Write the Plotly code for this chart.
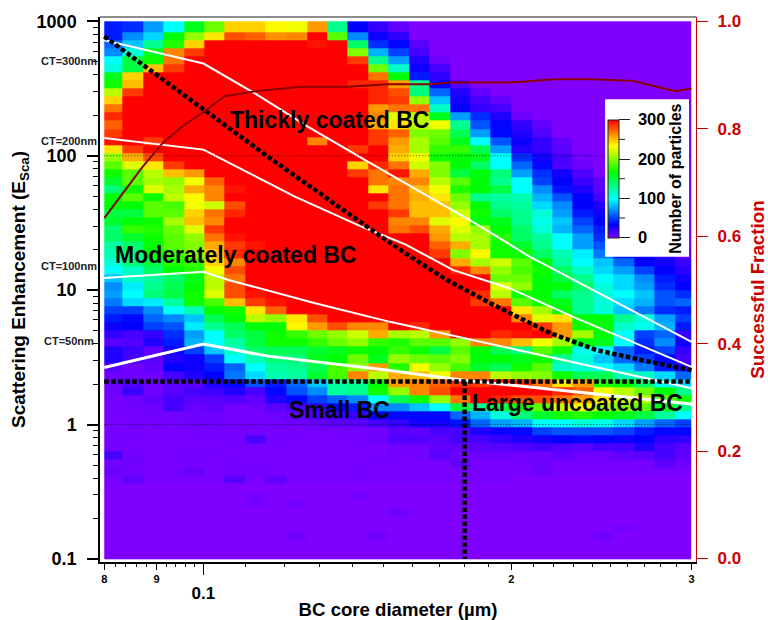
import plotly.graph_objects as go

FONT = "Liberation Sans"
R = 300

# Bin edges of the 2-D histogram
diameter_edges = [0.08, .0834, .0873, .0914, .0957, .1002, .1049, .1098, .1150, .1205, .1262, .1321, .1383, .1448,
                  .1517, .1588, .1663, .1742, .1824, .1909, .1999, .2094, .2193, .2296, .2404, .2517, .2636, .2760,
                  .2890, .3]
esca_edges = [1000, 832, 724, 631, 550, 479, 417, 363, 316, 275, 240, 209, 182, 158, 138, 120, 105, 91.2, 79.4, 69.2,
              60.3, 52.5, 45.7, 39.8, 34.7, 30.2, 26.3, 22.9, 20, 17.4, 15.1, 13.2, 11.5, 10, 8.71, 7.59, 6.61, 5.75,
              5.01, 4.37, 3.80, 3.31, 2.88, 2.51, 2.19, 1.91, 1.66, 1.45, 1.26, 1.10, .955, .832, .724, .631, .55,
              .479, .417, .363, .316, .275, .24, .209, .182, .158, .138, .12, .105, .1]

# Number of particles: one line per E_sca bin (top to bottom), one value per diameter bin
counts = [
 [40,45,75,100,160,195,245,245,235,230,260,130,33,20,8]+[0]*14,
 [40,70,90,165,205,240,280,275,262,265,R,190,70,30,22]+[0]*14,
 [60,85,130,175,245,R,R,R,R,R,295,R,140,45,35,10]+[0]*13,
 [70,110,160,265,285,R,R,R,R,R,R,R,200,80,50,15]+[0]*13,
 [100,150,170,270,R,R,R,R,R,R,R,R,285,130,75,25,5]+[0]*12,
 [110,150,250,285,R,R,R,R,R,R,R,R,R,195,115,30,15]+[0]*12,
 [160,245,R,R,R,R,R,R,R,R,R,R,R,270,165,40,22]+[0]*12,
 [170,250,R,R,R,R,R,R,R,R,R,R,290,290,260,130,33,12]+[0]*11,
 [215,285,R,R,R,R,R,R,R,R,R,R,R,290,280,135,60,25,8]+[0]*10,
 [245,R,R,R,R,R,R,R,R,R,R,R,R,290,285,205,85,28,15,8]+[0]*9,
 [270,R,R,R,R,R,R,R,R,R,R,R,R,260,270,270,115,33,20,15]+[0]*9,
 [290,R,R,R,R,R,R,R,R,R,R,R,R,265,225,215,160,75,45,25,5]+[0]*8,
 [275,R,R,R,R,R,R,R,R,R,R,R,R,255,240,215,230,130,55,35,20,8]+[0]*7,
 [285,R,R,R,R,R,R,R,R,R,R,R,R,285,275,200,195,145,75,35,25,12]+[0]*7,
 [295,R,285,R,R,R,R,R,R,R,265,R,R,285,260,210,190,160,100,55,30,20,8]+[0]*6,
 [240,285,R,R,R,R,R,R,R,R,R,R,285,R,255,210,180,180,145,75,25,20,10]+[0]*6,
 [205,255,280,R,R,R,R,R,R,R,R,R,R,R,245,230,170,165,160,100,45,28,15,3]+[0]*5,
 [190,225,240,285,R,R,R,R,R,R,R,R,245,290,270,220,200,165,140,100,60,35,12,5]+[0]*5,
 [170,190,215,250,260,R,R,R,R,R,R,R,285,270,295,255,200,150,165,135,75,45,28,12]+[0]*5,
 [155,190,210,205,230,275,R,R,R,R,R,R,R,270,265,265,215,190,165,130,100,50,33,18,8]+[0]*4,
 [135,170,225,210,255,265,295,R,R,R,R,R,R,240,270,250,230,175,165,150,100,70,38,25,10]+[0]*4,
 [165,190,170,215,235,265,R,R,R,R,R,R,R,R,270,255,240,195,130,125,120,80,55,33,15,5]+[0]*3,
 [165,165,190,185,230,220,280,R,R,R,R,R,R,285,270,250,250,205,165,130,125,90,70,33,25,10]+[0]*3,
 [150,150,190,190,245,270,290,R,R,R,R,R,R,R,285,250,250,220,170,140,130,110,75,40,30,12]+[0]*3,
 [155,165,170,210,250,265,R,R,R,R,R,R,R,R,265,265,225,235,165,160,130,105,85,50,33,20,5,0,0],
 [140,180,175,195,225,285,R,R,R,R,R,R,R,R,270,280,255,225,205,165,140,110,80,60,40,25,10,0,0],
 [140,155,170,190,205,270,295,R,R,R,R,R,R,R,R,R,260,215,210,175,140,125,100,75,45,28,15,5,0],
 [125,140,165,190,200,255,285,295,R,R,R,R,R,R,R,R,275,255,210,170,155,130,100,75,55,30,20,8,0],
 [120,135,165,180,200,250,290,R,R,R,R,R,R,R,R,R,285,200,235,170,170,140,120,95,65,40,30,20,6],
 [110,135,150,175,180,245,265,R,R,R,R,R,R,R,R,R,R,255,210,220,190,165,125,100,85,60,33,28,18],
 [100,115,140,165,175,230,280,R,R,R,R,R,R,R,R,R,R,290,265,205,185,170,140,115,90,75,50,33,22],
 [85,115,125,140,160,215,270,R,R,R,R,R,R,R,R,R,R,R,R,195,195,165,150,130,100,90,70,40,28],
 [70,95,130,145,165,215,280,R,R,R,R,R,R,R,R,R,R,R,R,225,205,165,165,140,110,90,75,45,33],
 [75,100,135,150,170,225,280,295,R,R,R,R,R,R,R,R,R,R,290,215,170,165,140,130,110,100,85,55,45],
 [65,90,95,125,170,185,250,285,295,R,R,R,R,R,R,R,R,R,285,270,190,170,160,130,110,90,80,55,60],
 [50,50,70,100,120,165,170,240,275,R,R,R,R,R,R,R,R,R,R,R,240,210,165,130,110,85,65,45,40],
 [40,35,60,70,85,145,165,215,205,240,280,R,R,R,R,R,R,R,R,R,265,225,240,165,165,130,110,75,50],
 [30,33,50,55,95,130,145,165,165,235,260,280,265,265,R,290,R,R,R,R,R,285,260,170,165,115,105,80,40],
 [20,15,20,45,75,100,140,150,170,180,195,205,220,255,210,215,260,R,R,290,295,R,260,210,165,100,50,60,20],
 [10,12,25,40,80,100,125,150,170,170,180,195,205,180,175,190,190,205,265,265,250,230,210,165,160,100,45,70,30],
 [25,18,8,30,50,85,115,140,145,145,155,160,170,165,180,170,150,190,165,145,135,190,170,105,100,60,40,50,20],
 [25,15,10,25,30,50,100,120,135,135,160,165,195,160,205,195,190,200,165,165,160,170,130,110,85,60,50,35,15],
 [10,5,8,33,30,40,60,100,125,130,145,185,205,260,175,230,205,185,155,145,170,190,115,110,100,90,65,40,25],
 [5,5,5,15,25,33,65,90,120,125,155,185,265,215,255,250,230,265,265,215,205,200,170,145,145,120,115,90,60],
 [5,12,5,10,10,25,35,55,40,60,85,125,130,165,260,265,275,285,285,295,290,270,240,260,175,165,140,100,90],
 [5,18,5,10,15,18,25,15,35,55,70,125,130,170,205,265,280,R,R,R,R,R,290,275,230,215,195,165,130],
 [3,5,8,15,10,10,12,8,25,35,50,60,70,100,145,170,205,270,R,290,280,280,270,260,240,220,215,190,170],
 [3,4,5,15,6,8,4,5,10,15,20,33,40,70,70,85,100,150,130,150,170,190,220,235,210,200,190,160,130],
 [2,3,4,4,5,5,3,3,5,8,15,18,18,33,35,35,35,60,80,110,135,155,170,175,165,160,150,125,100],
 [2,3,3,3,5,5,3,3,3,5,6,10,10,15,20,28,28,38,60,75,80,100,100,110,105,90,75,60,50],
 [2,2,2,2,3,3,2,3,2,2,3,3,4,4,10,8,15,15,25,30,35,50,55,55,55,50,40,35,35],
 [3,3,2,2,3,3,4,15,3,3,2,2,3,5,12,12,10,15,15,20,25,28,33,35,33,30,33,22,20],
 [3,2,2,2,2,2,2,3,3,2,2,2,3,2,5,5,8,8,10,10,12,15,12,10,15,15,25,15,10],
 [15,4,2,3,4,3,2,2,2,2,2,2,2,2,3,3,10,5,5,5,5,5,8,5,5,8,10,15,8],
 [3,5,2,2,2,2,4,2,2,2,2,2,2,3,2,2,2,8,2,2,3,5,3,3,3,3,3,10,5],
 [6,3,2,2,6,2,2,4,2,2,2,2,4,2,2,2,2,2,2,2,2,5,2,2,2,2,2,2,2],
 [2,8,2,2,2,2,10,2,8,2,2,2,2,2,2,2,2,2,2,2]+[0]*9,
 [0]*29,
 [0,0,0,0,0,0,0,3,0,0,0,0,3]+[0]*16,
 [0,0,0,0,0,0,0,3,0,3]+[0]*19,
 [0]*14+[4]+[0]*14,
 [0]*29,
 [0]*25+[3]+[0]*3,
 [0,0,0,0,0,0,0,0,0,4,0,0,0,4]+[0]*10+[4]+[0]*4,
 [0]*29,
 [0]*29,
 [0]*29,
]

# Successful fraction (right axis)
fraction_x = [.08, .0872, .0914, .0957, .1, .1049, .1124, .1248, .1383, .1516, .1663, .1743, .1911, .2, .2096, .2195,
              .2403, .2635, .2763, .2895, .3]
fraction_y = [.6335, .729, .775, .8065, .831, .8605, .870, .878, .878, .883, .883, .886, .886, .886, .889, .892, .892,
              .889, .879, .870, .875]

# Coating-thickness lines
ct300_x = [.08, .1, .1124, .1266, .1449, .1575, .1823, .2086, .2403, .3]
ct300_y = [722, 485, 290, 164, 90, 62.4, 33.1, 17.7, 10, 4.13]
ct200_x = [.08, .1, .123, .1429, .1575, .1755, .1994, .2298, .3]
ct200_y = [135.6, 111, 49.4, 29.6, 21.9, 14.1, 10.3, 6.33, 2.69]
ct100_x = [.08, .1, .1058, .1286, .1522, .1743, .2217, .3]
ct100_y = [12.3, 13.7, 11.9, 8.0, 5.81, 4.63, 3.12, 1.86]
ct50_x = [.08, .1, .1157, .1516, .1794, .2217, .3]
ct50_y = [2.66, 3.97, 3.23, 2.54, 2.14, 1.80, 1.42]

# Black dotted classification boundaries
boundary_x = [.08, .0997, .1157, .1429, .1575, .173, .1907, .2182, .2424, .2732, .3]
boundary_y = [773, 224, 98, 31.5, 18.8, 11.9, 8.0, 4.79, 3.58, 2.93, 2.54]
small_limit_x = [.08, .3]
small_limit_y = [2.09, 2.09]
uncoated_x = [.18, .18]
uncoated_y = [2.09, .1]
ref_y_values = [100, 1]
ref_x = [.08, .3]

y_ticks = [0.1, 1, 10, 100, 1000]
y_labels = ["0.1", "1", "10", "100", "1000"]
y_minor = [m * 10.0 ** d for d in range(-1, 3) for m in range(2, 10)]
x_ticks = [.08, .09, .2, .3]
x_labels = ["8", "9", "2", "3"]
x_minor = [.082, .084, .086, .088, .092, .094, .096, .098, .11, .12, .13, .14, .15, .16, .17, .18, .19,
           .21, .22, .23, .24, .25, .26, .27, .28, .29]
fraction_ticks = [0, .2, .4, .6, .8, 1]
fraction_labels = ["0.0", "0.2", "0.4", "0.6", "0.8", "1.0"]
cbar_ticks = [0, 100, 200, 300]
cbar_labels = ["\u00a00", "\u00a0100", "\u00a0200", "\u00a0300"]
cbar_minor = [50, 150, 250]

RED = "#cc0000"
MAROON = "#8b0000"
XR = [-1.10107, -0.51855]
YR = [-1.0223, 3.032]
L, T, Rt, B = 99.5, 16.7, 696, 562
W, H = 768, 620
CB_LEFT, CB_RIGHT, CB_TOP, CB_BOTTOM = 607.7, 619, 119.5, 237.5


def bold(size, color="black"):
    return dict(family=FONT, size=size, color=color, weight=700)


def fx(px):
    return (px - L) / (Rt - L)


def fy(py):
    return (B - py) / (B - T)


fig = go.Figure()
fig.add_trace(go.Heatmap(
    x=diameter_edges, y=esca_edges, z=counts, zmin=0, zmax=300, zsmooth=False,
    colorscale=[[0, "#8000ff"], [1/9, "#0000ff"], [3/9, "#00ffff"], [5/9, "#00ff00"], [7/9, "#ffff00"], [1, "#ff0000"]],
    colorbar=dict(
        x=fx(CB_LEFT), xanchor="left", xpad=0, ypad=0,
        y=fy(CB_BOTTOM), yanchor="bottom",
        lenmode="pixels", len=CB_BOTTOM - CB_TOP, thicknessmode="pixels", thickness=CB_RIGHT - CB_LEFT,
        tickmode="array", tickvals=cbar_ticks, ticktext=cbar_labels, ticks="outside", ticklen=11, tickwidth=1,
        tickcolor="#222", outlinecolor="#222", outlinewidth=1, tickfont=bold(16.5),
        title=dict(text="Number of particles", side="right", font=bold(16)),
    ),
))
for val in ref_y_values:
    fig.add_trace(go.Scatter(x=ref_x, y=[val, val], xaxis="x2", mode="lines",
                             line=dict(color="black", width=0.7, dash="1px 2px")))
for xs, ys, w in [(ct300_x, ct300_y, 2), (ct200_x, ct200_y, 2), (ct100_x, ct100_y, 2), (ct50_x, ct50_y, 3)]:
    fig.add_trace(go.Scatter(x=xs, y=ys, mode="lines", line=dict(color="white", width=w)))
fig.add_trace(go.Scatter(x=fraction_x, y=fraction_y, yaxis="y2", mode="lines", line=dict(color=MAROON, width=2)))
for xs, ys in [(boundary_x, boundary_y), (small_limit_x, small_limit_y), (uncoated_x, uncoated_y)]:
    fig.add_trace(go.Scatter(x=xs, y=ys, mode="lines", line=dict(color="black", width=4.5, dash="4.5px 2.5px")))

annotations = []
for txt, px, py, size in [("Thickly coated BC", 329.5, 120, 23), ("Moderately coated BC", 236, 255, 23),
                          ("Small BC", 339, 410, 23), ("Large uncoated BC", 577.5, 403, 23)]:
    annotations.append(dict(text=txt, xref="paper", yref="paper", x=fx(px), y=fy(py),
                            xanchor="center", yanchor="middle", showarrow=False, font=bold(size)))
for txt, px, py in [("CT=300nm", 97.5, 61), ("CT=200nm", 97.5, 140.5), ("CT=100nm", 97.5, 266), ("CT=50nm", 94.5, 341)]:
    annotations.append(dict(text=txt, xref="paper", yref="paper", x=fx(px), y=fy(py),
                            xanchor="right", yanchor="middle", showarrow=False, font=bold(11, "#222"),
                            xshift=0, borderpad=0))

shapes = [dict(type="rect", xref="paper", yref="paper", layer="above", fillcolor="white", line=dict(width=0),
               x0=fx(605), x1=fx(689), y0=fy(256.7), y1=fy(99)),
          dict(type="line", xref="paper", yref="paper", layer="above", x0=0, x1=1, y0=1, y1=1,
               line=dict(color="#666666", width=1.5))]
for v in cbar_minor:
    py = CB_BOTTOM - (CB_BOTTOM - CB_TOP) * v / 300
    shapes.append(dict(type="line", xref="paper", yref="paper", layer="above", x0=fx(CB_RIGHT), x1=fx(CB_RIGHT + 6),
                       y0=fy(py), y1=fy(py), line=dict(color="#222", width=1)))

fig.update_layout(
    width=W, height=H, showlegend=False, paper_bgcolor="white", plot_bgcolor="white",
    margin=dict(l=L, r=W - Rt, t=T, b=H - B, autoexpand=False),
    xaxis=dict(type="log", range=XR, tickmode="array", tickvals=x_ticks, ticktext=x_labels, ticks="outside", ticklen=6,
               tickwidth=1, tickcolor="black", tickfont=bold(11), showgrid=False, zeroline=False, showline=True,
               linecolor="black", linewidth=1.5,
               minor=dict(tickmode="array", tickvals=x_minor, ticks="outside", ticklen=3, tickwidth=1,
                          tickcolor="black", showgrid=False),
               title=dict(text="BC core diameter (µm)", font=bold(18.6), standoff=27)),
    xaxis2=dict(type="log", range=XR, overlaying="x", anchor="y", side="bottom", tickmode="array", tickvals=[0.1],
                ticktext=["0.1"], ticks="outside", ticklen=12, tickwidth=1, tickcolor="black", tickfont=bold(17),
                ticklabelstandoff=4, showgrid=False, zeroline=False, showline=False),
    yaxis=dict(type="log", range=YR, tickmode="array", tickvals=y_ticks, ticktext=y_labels, ticks="outside", ticklen=11,
               tickwidth=1.5, tickcolor="black", tickfont=bold(18), ticklabelstandoff=7, showgrid=False, zeroline=False,
               showline=True, linecolor="black", linewidth=1.5,
               minor=dict(tickmode="array", tickvals=y_minor, ticks="outside", ticklen=5, tickwidth=1,
                          tickcolor="black", showgrid=False),
               title=dict(text="Scattering Enhancement (E<sub>Sca</sub>)", font=bold(19), standoff=6)),
    yaxis2=dict(range=[-0.0065, 1.008], overlaying="y", side="right", anchor="x", tickmode="array",
                tickvals=fraction_ticks, ticktext=fraction_labels, ticks="outside", ticklen=11, tickwidth=1,
                ticklabelstandoff=6, tickcolor=RED, tickfont=bold(17, RED), showgrid=False, zeroline=False,
                showline=True, linecolor=RED, linewidth=1.2,
                title=dict(text="Successful Fraction", font=bold(18.8, RED), standoff=16)),
    shapes=shapes,
    annotations=annotations,
)

fig.write_html("out.html", config={"displayModeBar": False},
               post_script="document.body.style.margin='0';")
